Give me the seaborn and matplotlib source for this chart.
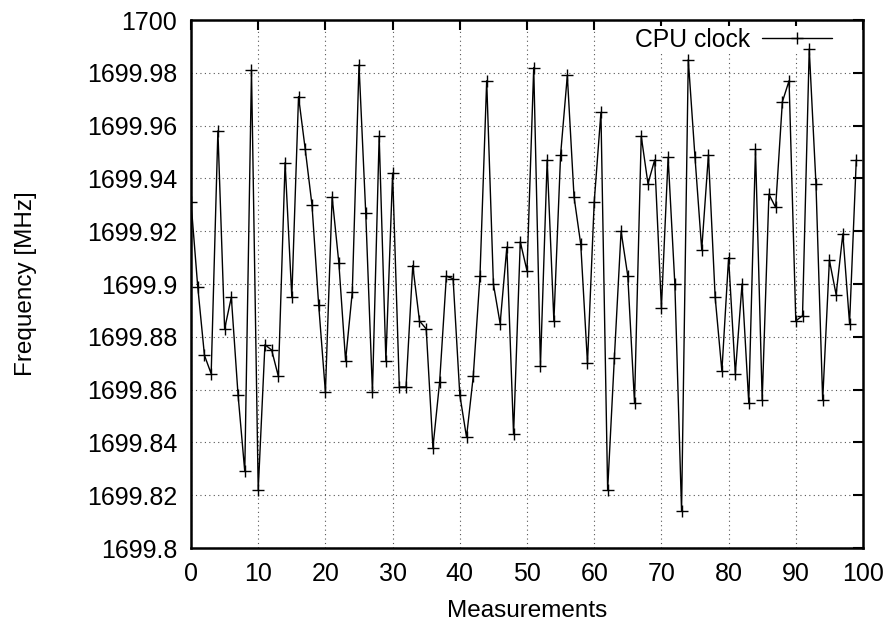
import numpy as np
import pandas as pd
import seaborn as sns
import matplotlib
matplotlib.use('Agg')
import matplotlib.pyplot as plt
from matplotlib.ticker import FuncFormatter, MultipleLocator

# CPU clock readings [MHz], one per measurement
freq = [
    1699.931, 1699.899, 1699.873, 1699.866, 1699.958, 1699.883, 1699.895, 1699.858, 1699.829, 1699.981,
    1699.822, 1699.877, 1699.875, 1699.865, 1699.946, 1699.895, 1699.971, 1699.951, 1699.930, 1699.892,
    1699.859, 1699.933, 1699.908, 1699.871, 1699.897, 1699.983, 1699.927, 1699.859, 1699.956, 1699.871,
    1699.942, 1699.861, 1699.861, 1699.907, 1699.886, 1699.883, 1699.838, 1699.863, 1699.903, 1699.902,
    1699.858, 1699.842, 1699.865, 1699.903, 1699.977, 1699.900, 1699.885, 1699.914, 1699.843, 1699.916,
    1699.905, 1699.982, 1699.869, 1699.947, 1699.886, 1699.949, 1699.979, 1699.933, 1699.915, 1699.870,
    1699.931, 1699.965, 1699.822, 1699.872, 1699.920, 1699.903, 1699.855, 1699.956, 1699.938, 1699.947,
    1699.891, 1699.948, 1699.900, 1699.814, 1699.985, 1699.948, 1699.913, 1699.949, 1699.895, 1699.867,
    1699.910, 1699.866, 1699.900, 1699.855, 1699.951, 1699.856, 1699.934, 1699.929, 1699.969, 1699.977,
    1699.886, 1699.888, 1699.989, 1699.938, 1699.856, 1699.909, 1699.896, 1699.919, 1699.885, 1699.947,
]
measurements = list(range(len(freq)))

df = pd.DataFrame({'Measurements': measurements, 'Frequency [MHz]': freq})

sns.set_style("white")
plt.rcParams['font.family'] = ['Liberation Sans', 'DejaVu Sans']
plt.rcParams['text.color'] = 'black'
plt.rcParams['axes.labelcolor'] = 'black'

fig = plt.figure(figsize=(8.93, 6.31), dpi=100)
ax = fig.add_axes([0.2139, 0.1315, 0.7525, 0.8368])

sns.lineplot(data=df, x='Measurements', y='Frequency [MHz]', ax=ax,
             color='black', linewidth=1.0, marker='+', markersize=8,
             markeredgewidth=1.0, markeredgecolor='black', label='CPU clock',
             zorder=4)

ax.set_xlim(0, 100)
ax.set_ylim(1699.8, 1700)
ax.xaxis.set_major_locator(MultipleLocator(10))
ax.yaxis.set_major_locator(MultipleLocator(0.02))
ax.yaxis.set_major_formatter(FuncFormatter(lambda v, p: '{:g}'.format(round(v, 4))))

ax.grid(True, color='#555555', linestyle=(0, (1, 3)), linewidth=0.8, zorder=1)
ax.tick_params(direction='in', length=7, width=1.5, top=True, right=True,
               labelsize=18, pad=10, colors='black')
for s in ax.spines.values():
    s.set_linewidth(1.8)
    s.set_color('black')

ax.set_xlabel('Measurements', fontsize=17.5, labelpad=10)
ax.set_ylabel('Frequency [MHz]', fontsize=17.5, labelpad=36)

leg = ax.legend(loc='upper right', fontsize=17.8, markerfirst=False, frameon=True,
                fancybox=False, framealpha=1, handlelength=2.8,
                borderpad=0.05, borderaxespad=0.0, handletextpad=0.5,
                bbox_to_anchor=(0.955, 0.988))
leg.get_frame().set_edgecolor('none')
leg.get_frame().set_facecolor('white')
leg.set_zorder(2)

fig.savefig('out.png', dpi=100)
